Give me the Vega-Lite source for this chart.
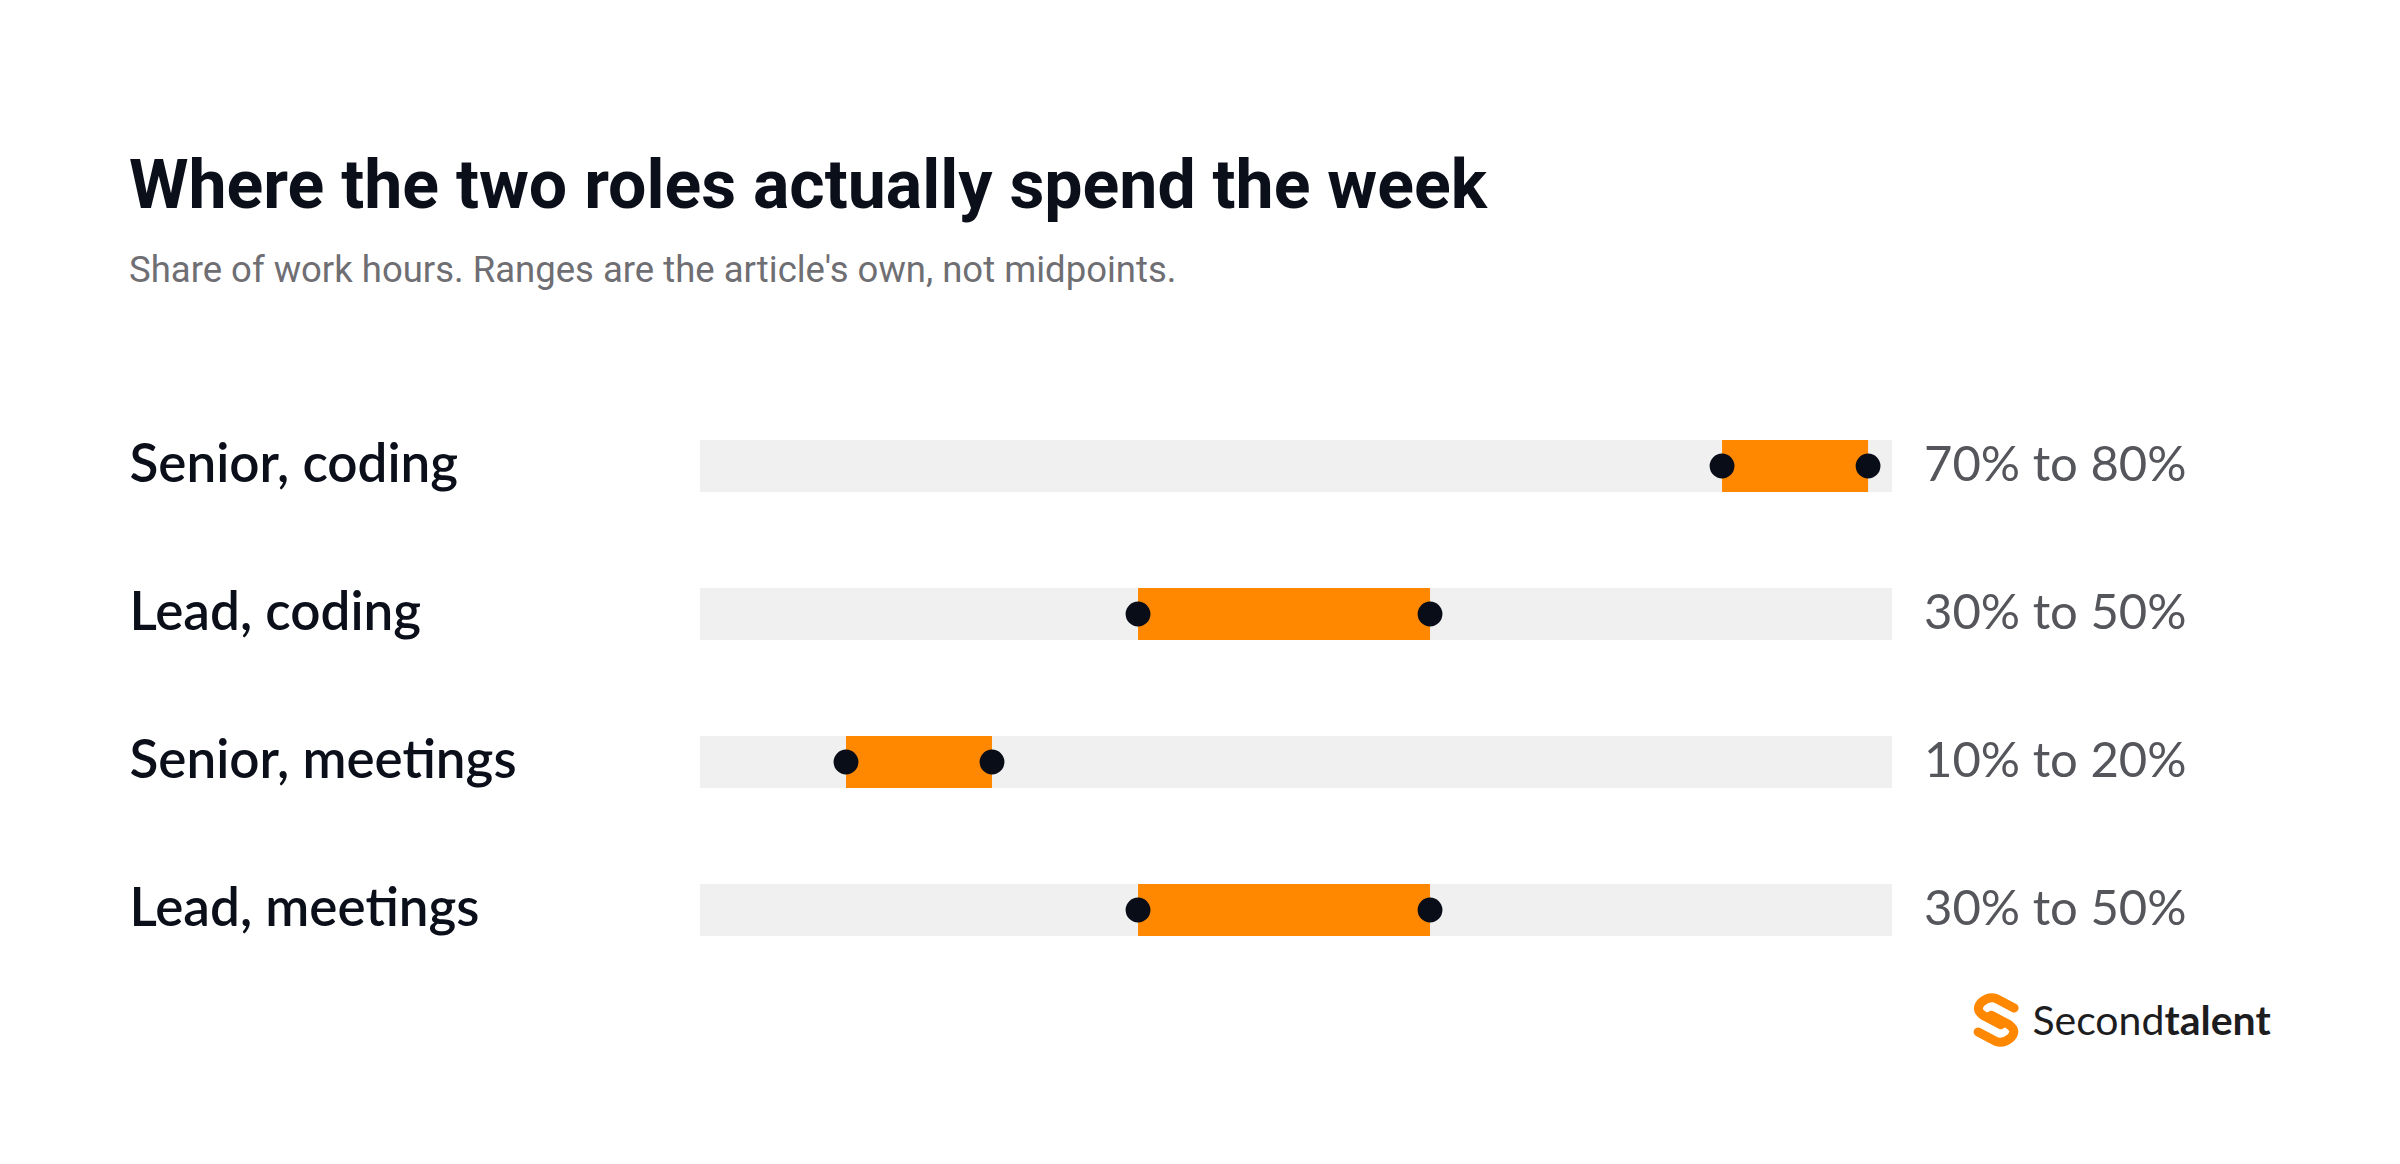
{
  "$schema": "https://vega.github.io/schema/vega-lite/v6.json",
  "autosize": "none",
  "width": 1192,
  "height": 592,
  "padding": {"left": 700, "top": 392, "right": 508, "bottom": 180},
  "background": "#ffffff",
  "title": {
    "text": "Where the two roles actually spend the week",
    "subtitle": "Share of work hours. Ranges are the article's own, not midpoints.",
    "anchor": "start",
    "frame": "group",
    "dx": -571,
    "offset": 103,
    "font": "Roboto",
    "fontSize": 68,
    "fontWeight": 700,
    "color": "#0b0f1a",
    "subtitleFont": "Roboto",
    "subtitleFontSize": 36.5,
    "subtitleColor": "#6e6e73",
    "subtitlePadding": 31
  },
  "config": {"view": {"stroke": null}},
  "data": {
    "values": [
      {"role": "Senior, coding", "low": 70, "high": 80, "label": "70% to 80%"},
      {"role": "Lead, coding", "low": 30, "high": 50, "label": "30% to 50%"},
      {"role": "Senior, meetings", "low": 10, "high": 20, "label": "10% to 20%"},
      {"role": "Lead, meetings", "low": 30, "high": 50, "label": "30% to 50%"}
    ]
  },
  "encoding": {
    "y": {
      "field": "role",
      "type": "nominal",
      "sort": null,
      "scale": {"paddingInner": 0, "paddingOuter": 0},
      "axis": {
        "title": null,
        "domain": false,
        "ticks": false,
        "tickSize": 0,
        "grid": false,
        "labelAlign": "left",
        "labelBaseline": "middle",
        "labelPadding": 571,
        "labelLimit": 0,
        "labelFont": "Lato",
        "labelFontSize": 53,
        "labelFontWeight": 600,
        "labelColor": "#0b0f1a"
      }
    }
  },
  "layer": [
    {
      "mark": {"type": "bar", "height": 52, "color": "#eff0ef", "cornerRadius": 0},
      "encoding": {
        "x": {"value": 0},
        "x2": {"value": "width"}
      }
    },
    {
      "mark": {"type": "bar", "height": 52, "color": "#ff8800"},
      "encoding": {
        "x": {"field": "low", "type": "quantitative", "scale": {"domain": [0, 81.64], "nice": false, "zero": false}, "axis": null},
        "x2": {"field": "high"}
      }
    },
    {
      "mark": {"type": "circle", "size": 616, "color": "#080d18", "opacity": 1},
      "encoding": {
        "x": {"field": "low", "type": "quantitative"}
      }
    },
    {
      "mark": {"type": "circle", "size": 616, "color": "#080d18", "opacity": 1},
      "encoding": {
        "x": {"field": "high", "type": "quantitative"}
      }
    },
    {
      "mark": {"type": "text", "align": "left", "baseline": "middle", "dx": 32, "font": "Lato", "fontSize": 49, "color": "#55565b"},
      "encoding": {
        "x": {"value": "width"},
        "text": {"field": "label"}
      }
    },
    {
      "data": {"values": [{"brand": "logo"}]},
      "layer": [
        {
          "mark": {
            "type": "point",
            "shape": "M 0.75 -0.5 L 0.0 -0.9 Q -0.3 -1.0 -0.6 -0.75 Q -0.9 -0.45 -0.55 -0.2 L 0.2 0.2 M -0.75 0.5 L 0.0 0.9 Q 0.3 1.0 0.6 0.75 Q 0.9 0.45 0.55 0.2 L -0.2 -0.2",
            "filled": false,
            "stroke": "#ff8800",
            "strokeWidth": 9,
            "strokeCap": "round",
            "strokeJoin": "round",
            "size": 2300,
            "opacity": 1
          },
          "encoding": {
            "x": {"datum": 88.77, "type": "quantitative"},
            "y": {"value": "height"},
            "yOffset": {"value": 36}
          }
        },
        {
          "mark": {"type": "text", "text": "Second", "align": "right", "baseline": "alphabetic", "dy": 51, "font": "Lato", "fontSize": 41, "fontWeight": 400, "color": "#1d1d1f"},
          "encoding": {
            "x": {"datum": 100.3, "type": "quantitative"},
            "y": {"value": "height"}
          }
        },
        {
          "mark": {"type": "text", "text": "talent", "align": "left", "baseline": "alphabetic", "dy": 51, "font": "Lato", "fontSize": 41, "fontWeight": 700, "color": "#1d1d1f"},
          "encoding": {
            "x": {"datum": 100.3, "type": "quantitative"},
            "y": {"value": "height"}
          }
        }
      ]
    }
  ]
}
